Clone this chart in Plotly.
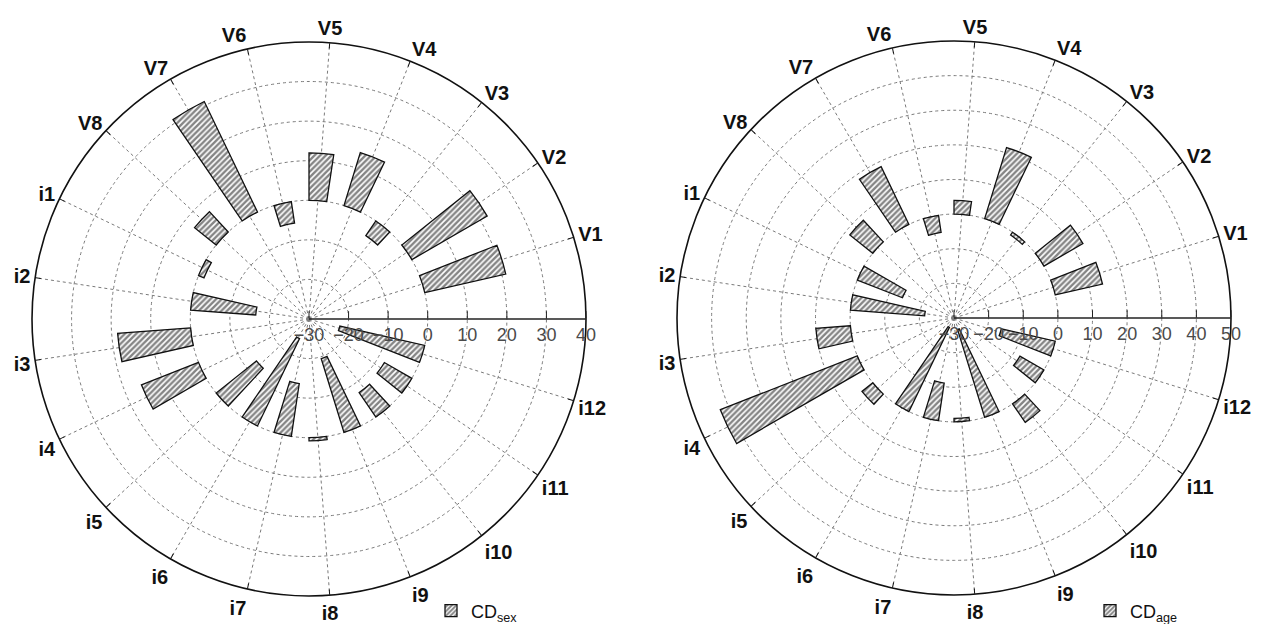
import plotly.graph_objects as go

categories = ["V1", "V2", "V3", "V4", "V5", "V6", "V7", "V8",
              "i1", "i2", "i3", "i4", "i5", "i6", "i7", "i8", "i9", "i10", "i11", "i12"]

cd_sex = [21, 22, -4.5, 14, 12, -5.5, 31, 7,
          -1.5, -16.5, 18.5, 15.5, -13, -24.5, -13.5, 0.8, -19.5, -7.5, -8, -22]

cd_age = [14, 13, -1, 21.5, 4, -5, 18.5, 8.5,
          -14, -21.5, 10, 42.5, 4, -27, -11, -1, -26.5, 6.5, -8, -16]

sex_range = [-30, 40]
age_range = [-30, 50]
n_slots = 21  # one empty slot at 0 degrees where the radial axis lies

FONT = "Liberation Sans, Arial, sans-serif"

pattern = dict(shape="/", fgcolor="#0a0a0a", bgcolor="white", size=4, solidity=0.6)

fig = go.Figure()
fig.add_trace(go.Barpolar(
    r=cd_sex, theta=categories, width=0.5, base=0,
    name="CD<sub>sex</sub>", subplot="polar", legend="legend",
    marker=dict(color="white", pattern=pattern, line=dict(color="#111", width=1.3)),
))
fig.add_trace(go.Barpolar(
    r=cd_age, theta=categories, width=0.5, base=0,
    name="CD<sub>age</sub>", subplot="polar2", legend="legend2",
    marker=dict(color="white", pattern=pattern, line=dict(color="#111", width=1.3)),
))

def polar_cfg(domain_x, domain_y, rng):
    return dict(
        domain=dict(x=domain_x, y=domain_y),
        bgcolor="white",
        hole=0,
        radialaxis=dict(
            range=rng, dtick=10, angle=0, side="clockwise",
            showline=True, linecolor="#222", linewidth=1.6,
            ticks="inside", ticklen=7, tickcolor="#222",
            tickfont=dict(family=FONT, size=18, color="#4a4a4a"),
            showgrid=True, gridcolor="#7a7a7a", griddash="dot", gridwidth=1,
            tickangle=0,
        ),
        angularaxis=dict(
            type="category", categoryorder="array", categoryarray=categories,
            period=n_slots, rotation=360 / n_slots, direction="counterclockwise",
            showline=True, linecolor="#111", linewidth=1.6,
            ticks="inside", ticklen=5, tickcolor="#111",
            tickfont=dict(family=FONT, size=20, color="#111", weight="bold"),
            showgrid=True, gridcolor="#7a7a7a", griddash="dot", gridwidth=1,
        ),
    )

fig.update_layout(
    width=1263, height=624,
    margin=dict(l=0, r=0, t=0, b=0, autoexpand=False),
    paper_bgcolor="white", plot_bgcolor="white",
    polar=polar_cfg([31 / 1263, 587 / 1263], [1 - 596 / 624, 1 - 42 / 624], sex_range),
    polar2=polar_cfg([676 / 1263, 1232 / 1263], [1 - 595 / 624, 1 - 41 / 624], age_range),
    legend=dict(x=431 / 1263, y=1 - 611 / 624, xanchor="left", yanchor="middle",
                font=dict(family=FONT, size=18, color="#111"), bgcolor="rgba(0,0,0,0)"),
    legend2=dict(x=1090 / 1263, y=1 - 611 / 624, xanchor="left", yanchor="middle",
                 font=dict(family=FONT, size=18, color="#111"), bgcolor="rgba(0,0,0,0)"),
    showlegend=True,
)

fig.write_html("out.html", config={"displayModeBar": False},
               post_script="document.body.style.margin='0';")
